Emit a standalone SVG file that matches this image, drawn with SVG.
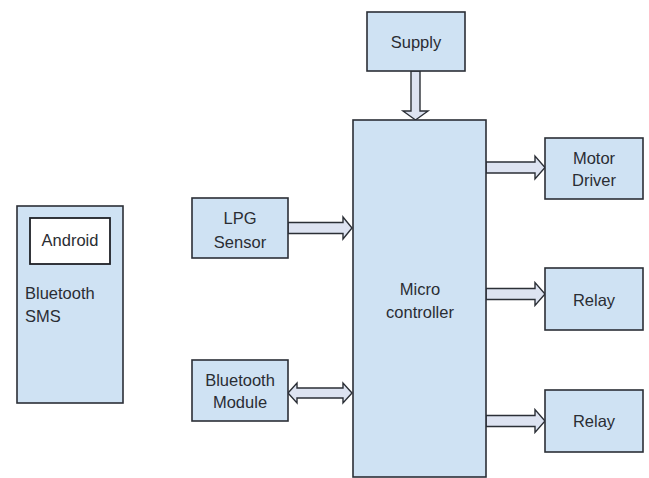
<svg xmlns="http://www.w3.org/2000/svg" width="649" height="478" viewBox="0 0 649 478">
<style>
.box{fill:#cfe2f3;stroke:#2b2f36;stroke-width:1.6}
.inner{fill:#ffffff;stroke:#1e2126;stroke-width:1.8}
.arr{fill:#dde3f1;stroke:#2b2f36;stroke-width:1.4;stroke-linejoin:miter}
text{font-family:"Liberation Sans",Arial,sans-serif;font-size:16.5px;fill:#2a2d33}
.c{text-anchor:middle}
</style>
<rect width="649" height="478" fill="#ffffff"/>
<g id="connectors">
<path class="arr" d="M411,71 L420,71 L420,111 L428,111 L415.5,120 L403,111 L411,111 Z"/>
<path class="arr" d="M288,222.5 L343,222.5 L343,217 L352,228 L343,239 L343,233.5 L288,233.5 Z"/>
<path class="arr" d="M288,393 L297,383 L297,388 L343,388 L343,383 L352,393 L343,403 L343,398 L297,398 L297,403 Z"/>
<path class="arr" d="M486,162 L535,162 L535,156 L545,167.5 L535,179 L535,173 L486,173 Z"/>
<path class="arr" d="M486,288.5 L535,288.5 L535,282.5 L545,294 L535,305.5 L535,299.5 L486,299.5 Z"/>
<path class="arr" d="M486,415.5 L535,415.5 L535,409.5 L545,421 L535,432.5 L535,426.5 L486,426.5 Z"/>
</g>
<g id="bluetooth-sms">
<rect class="box" x="17" y="206" width="106" height="197"/>
<text x="25" y="299">Bluetooth</text>
<text x="25" y="322">SMS</text>
</g>
<g id="android">
<rect class="inner" x="30" y="218" width="80" height="46"/>
<text class="c" x="70" y="246">Android</text>
</g>
<g id="supply">
<rect class="box" x="367" y="12" width="98" height="59"/>
<text class="c" x="416" y="48">Supply</text>
</g>
<g id="lpg-sensor">
<rect class="box" x="192" y="198" width="96" height="60"/>
<text class="c" x="240" y="224">LPG</text>
<text class="c" x="240" y="248">Sensor</text>
</g>
<g id="bluetooth-module">
<rect class="box" x="192" y="360" width="96" height="61"/>
<text class="c" x="240" y="386">Bluetooth</text>
<text class="c" x="240" y="408">Module</text>
</g>
<g id="microcontroller">
<rect class="box" x="353" y="120" width="133" height="357"/>
<text class="c" x="420" y="295">Micro</text>
<text class="c" x="420" y="318">controller</text>
</g>
<g id="motor-driver">
<rect class="box" x="545" y="138" width="98" height="61"/>
<text class="c" x="594" y="164">Motor</text>
<text class="c" x="594" y="186">Driver</text>
</g>
<g id="relay-1">
<rect class="box" x="545" y="268" width="98" height="62"/>
<text class="c" x="594" y="306">Relay</text>
</g>
<g id="relay-2">
<rect class="box" x="545" y="390" width="98" height="62"/>
<text class="c" x="594" y="427">Relay</text>
</g>
</svg>
